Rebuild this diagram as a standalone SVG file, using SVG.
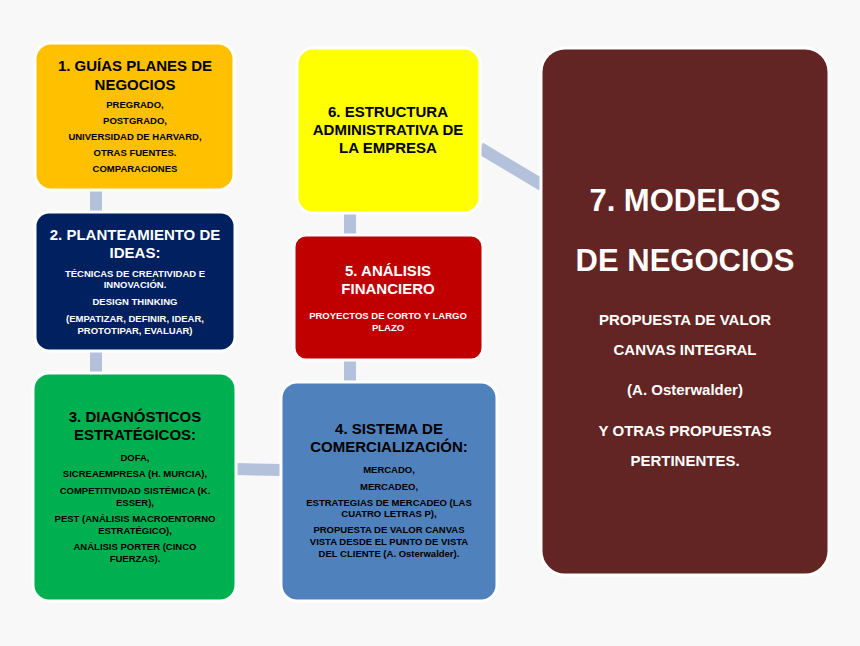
<svg xmlns="http://www.w3.org/2000/svg" width="860" height="646" viewBox="0 0 860 646">
<style>
text{font-family:"Liberation Sans",Arial,sans-serif;font-weight:bold;text-anchor:middle}
.b{stroke:#fff;stroke-width:3}
.t{font-size:15px}
.s{font-size:9.5px}
.c{stroke:#B4C1DB;stroke-width:12;fill:none}
</style>
<rect width="860" height="646" fill="#f8f8f8"/>
<g id="connectors">
<line class="c" x1="96" y1="189" x2="96" y2="213"/>
<line class="c" x1="96" y1="350" x2="96" y2="374"/>
<line class="c" x1="235" y1="469" x2="282" y2="470"/>
<line class="c" x1="350" y1="359" x2="350" y2="383"/>
<line class="c" x1="350" y1="212" x2="350" y2="236"/>
<line class="c" x1="480" y1="148" x2="542" y2="185"/>
</g>
<g id="n1">
<rect class="b" x="35" y="43" width="199" height="147" rx="16" fill="#FFC000"/>
<text class="t" y="71"><tspan x="135">1. GUÍAS PLANES DE</tspan><tspan x="135" dy="19">NEGOCIOS</tspan></text>
<text class="s" y="108"><tspan x="135">PREGRADO,</tspan><tspan x="135" dy="16">POSTGRADO,</tspan><tspan x="135" dy="16">UNIVERSIDAD DE HARVARD,</tspan><tspan x="135" dy="16">OTRAS FUENTES.</tspan><tspan x="135" dy="16">COMPARACIONES</tspan></text>
</g>
<g id="n2">
<rect class="b" x="35" y="212" width="200" height="139" rx="14" fill="#002060"/>
<text class="t" y="240" fill="#fff"><tspan x="135">2. PLANTEAMIENTO DE</tspan><tspan x="135" dy="18">IDEAS:</tspan></text>
<text class="s" y="277" fill="#fff"><tspan x="135">TÉCNICAS DE CREATIVIDAD E</tspan><tspan x="135" dy="11">INNOVACIÓN.</tspan><tspan x="135" dy="17">DESIGN THINKING</tspan><tspan x="135" dy="17">(EMPATIZAR, DEFINIR, IDEAR,</tspan><tspan x="135" dy="12">PROTOTIPAR, EVALUAR)</tspan></text>
</g>
<g id="n3">
<rect class="b" x="33" y="373" width="203" height="228" rx="16" fill="#00B050"/>
<text class="t" y="422"><tspan x="135">3. DIAGNÓSTICOS</tspan><tspan x="135" dy="18">ESTRATÉGICOS:</tspan></text>
<text class="s" y="461"><tspan x="135">DOFA,</tspan><tspan x="135" dy="16">SICREAEMPRESA (H. MURCIA),</tspan><tspan x="135" dy="17">COMPETITIVIDAD SISTÉMICA (K.</tspan><tspan x="135" dy="12">ESSER),</tspan><tspan x="135" dy="16">PEST (ANÁLISIS MACROENTORNO</tspan><tspan x="135" dy="12">ESTRATÉGICO),</tspan><tspan x="135" dy="16">ANÁLISIS PORTER (CINCO</tspan><tspan x="135" dy="12">FUERZAS).</tspan></text>
</g>
<g id="n4">
<rect class="b" x="281" y="382" width="216" height="219" rx="16" fill="#4F81BD"/>
<text class="t" y="434"><tspan x="389">4. SISTEMA DE</tspan><tspan x="389" dy="18">COMERCIALIZACIÓN:</tspan></text>
<text class="s" y="473"><tspan x="389">MERCADO,</tspan><tspan x="389" dy="17">MERCADEO,</tspan><tspan x="389" dy="16">ESTRATEGIAS DE MERCADEO (LAS</tspan><tspan x="389" dy="11">CUATRO LETRAS P),</tspan><tspan x="389" dy="16">PROPUESTA DE VALOR CANVAS</tspan><tspan x="389" dy="12">VISTA DESDE EL PUNTO DE VISTA</tspan><tspan x="389" dy="12">DEL CLIENTE (A. Osterwalder).</tspan></text>
</g>
<g id="n5">
<rect class="b" x="294" y="235" width="189" height="125" rx="12" fill="#C00000"/>
<text class="t" y="276" fill="#fff"><tspan x="388">5. ANÁLISIS</tspan><tspan x="388" dy="18">FINANCIERO</tspan></text>
<text class="s" y="319" fill="#fff"><tspan x="388">PROYECTOS DE CORTO Y LARGO</tspan><tspan x="388" dy="12">PLAZO</tspan></text>
</g>
<g id="n6">
<rect class="b" x="297" y="48" width="183" height="165" rx="16" fill="#FFFF00"/>
<text class="t" y="117"><tspan x="388">6. ESTRUCTURA</tspan><tspan x="388" dy="18">ADMINISTRATIVA DE</tspan><tspan x="388" dy="18">LA EMPRESA</tspan></text>
</g>
<g id="n7">
<rect class="b" x="541" y="48" width="288" height="527" rx="24" fill="#632523"/>
<text y="211" font-size="31" fill="#fff"><tspan x="685">7. MODELOS</tspan><tspan x="685" dy="60">DE NEGOCIOS</tspan></text>
<text y="325" font-size="15" fill="#fff"><tspan x="685">PROPUESTA DE VALOR</tspan><tspan x="685" dy="30">CANVAS INTEGRAL</tspan><tspan x="685" dy="40">(A. Osterwalder)</tspan><tspan x="685" dy="41">Y OTRAS PROPUESTAS</tspan><tspan x="685" dy="30">PERTINENTES.</tspan></text>
</g>
</svg>
